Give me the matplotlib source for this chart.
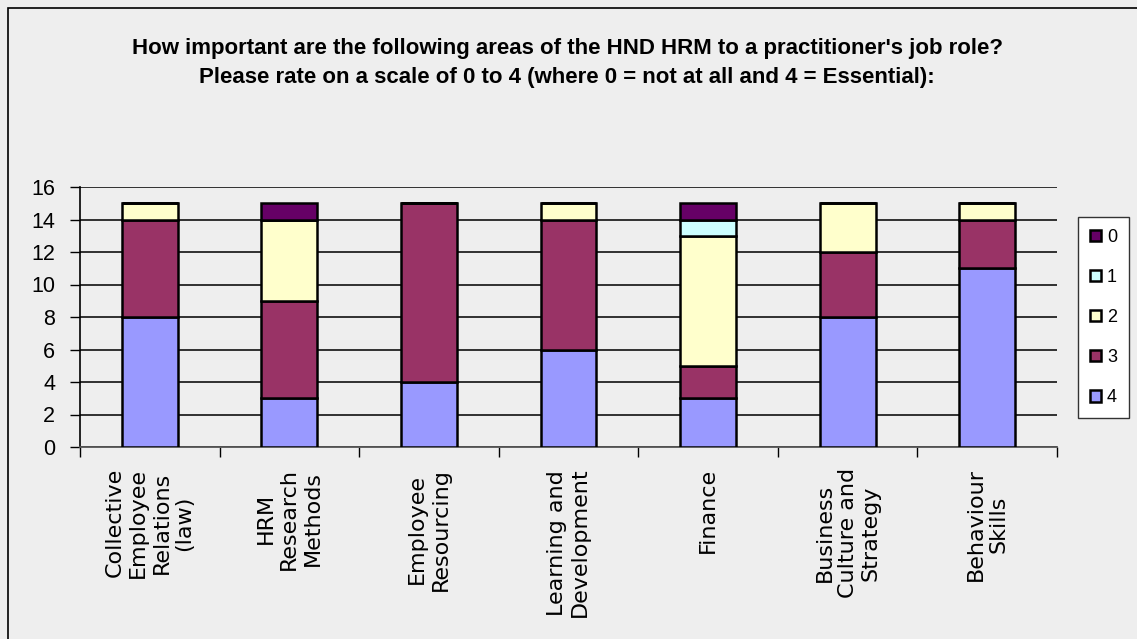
import matplotlib.pyplot as plt
from matplotlib.patches import Rectangle
import numpy as np

categories = ['Collective\nEmployee\nRelations\n(law)', 'HRM\nResearch\nMethods',
              'Employee\nResourcing', 'Learning and\nDevelopment', 'Finance',
              'Business\nCulture and\nStrategy', 'Behaviour\nSkills']
score_4 = [8, 3, 4, 6, 3, 8, 11]
score_3 = [6, 6, 11, 8, 2, 4, 3]
score_2 = [1, 5, 0, 1, 8, 3, 1]
score_1 = [0, 0, 0, 0, 1, 0, 0]
score_0 = [0, 1, 0, 0, 1, 0, 0]

series = [('4', score_4, '#9999FF'), ('3', score_3, '#993366'),
          ('2', score_2, '#FFFFCC'), ('1', score_1, '#CCFFFF'),
          ('0', score_0, '#660066')]

plt.rcParams['font.family'] = ['Liberation Sans', 'DejaVu Sans']

fig = plt.figure(figsize=(11.37, 6.39), dpi=100, facecolor='#EEEEEE')
ax = fig.add_axes([80 / 1137, 1 - 447 / 639, 977 / 1137, 260 / 639])
ax.set_facecolor('#EEEEEE')

# frame line round the chart
fig.patches.append(Rectangle((8 / 1137, -0.1), 1.1, 1.1 - 8 / 639,
                             transform=fig.transFigure, fill=False,
                             edgecolor='black', linewidth=1.2))

x = np.arange(len(categories))
bottom = np.zeros(len(categories))
handles = {}
for name, vals, col in series:
    vals = np.array(vals)
    b = ax.bar(x, vals, 0.4, bottom=bottom, color=col, edgecolor='black',
               linewidth=1.8, zorder=3)
    handles[name] = b
    bottom += vals

ax.set_xlim(-0.5, len(categories) - 0.5)
ax.set_ylim(0, 16)
ax.set_yticks(range(0, 17, 2))
ax.yaxis.grid(True, color='#222222', linewidth=1.3, zorder=0)
ax.tick_params(axis='y', labelsize=15.5, length=7, width=1, direction='out', pad=11)

ax.set_xticks(x)
ax.set_xticklabels(categories, rotation=90, fontsize=16, va='top', ha='center',
                   multialignment='center', family='DejaVu Sans')
ax.tick_params(axis='x', length=0, pad=15)
ax.set_xticks(np.arange(-0.5, len(categories), 1), minor=True)
ax.tick_params(axis='x', which='minor', length=7, width=1, direction='out')

for s in ['top', 'right']:
    ax.spines[s].set_visible(False)
ax.spines['left'].set_linewidth(1.2)
ax.spines['bottom'].set_linewidth(1.3)
ax.spines['bottom'].set_color('#555555')

leg = fig.legend([handles[k] for k in ['0', '1', '2', '3', '4']],
                 ['0', '1', '2', '3', '4'], loc='upper left',
                 bbox_to_anchor=(1078 / 1137, 1 - 217 / 639), borderaxespad=0,
                 fontsize=13, handlelength=0.6, handleheight=0.6, handletextpad=0.35,
                 labelspacing=1.28, borderpad=0.65, fancybox=False,
                 edgecolor='#333333', facecolor='white', framealpha=1)
leg.get_frame().set_linewidth(1)

fig.text(0.499, 1 - 63 / 639,
         "How important are the following areas of the HND HRM to a practitioner's job role?\n"
         "Please rate on a scale of 0 to 4 (where 0 = not at all and 4 = Essential):",
         ha='center', va='center', fontsize=16, fontweight='bold', linespacing=1.55)

fig.savefig('out.png', dpi=100, facecolor=fig.get_facecolor())
